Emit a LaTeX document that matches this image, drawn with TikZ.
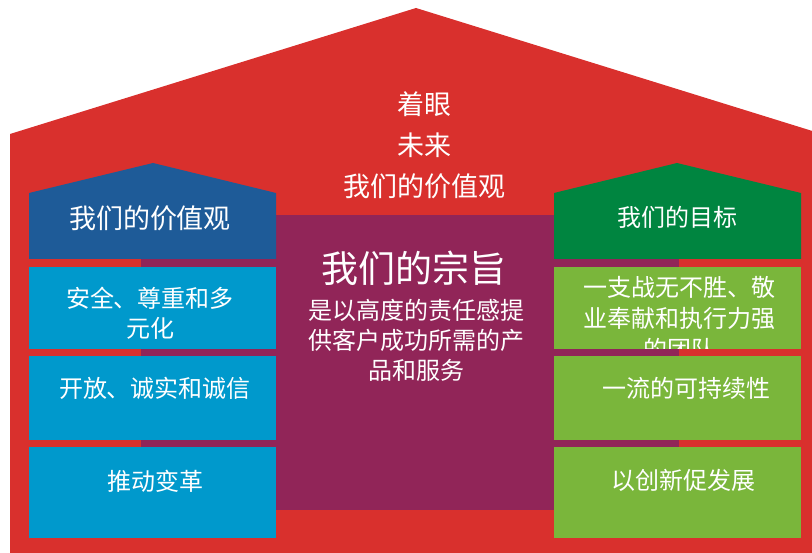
\documentclass[tikz,border=0pt]{standalone}
\usepackage{fontspec}
\setmainfont{Noto Sans CJK SC}
\definecolor{houseRed}{HTML}{D9302D}
\definecolor{missionPurple}{HTML}{912558}
\definecolor{valueBlue}{HTML}{1E5B98}
\definecolor{valueCyan}{HTML}{0099CC}
\definecolor{goalGreen}{HTML}{008540}
\definecolor{goalLime}{HTML}{7AB63B}
\begin{document}
\begin{tikzpicture}[x=1pt,y=-1pt,
      every node/.style={text=white,inner sep=0pt,align=center},
      boxtext/.style={font=\fontsize{24}{30}\selectfont}]
      \useasboundingbox (0,0) rectangle (812,553);
      \clip (0,0) rectangle (812,553);
      \fill[houseRed] (10,553)--(10,134)--(416,8)--(822,134)--(822,553)--cycle;
      \fill[missionPurple] (141,215) rectangle (679,510);
      \fill[valueBlue] (29,259)--(29,193)--(153,163)--(276,193)--(276,259)--cycle;
      \fill[goalGreen] (554,259)--(554,193)--(677,163)--(801,193)--(801,259)--cycle;
      \foreach \ya/\yb in {267/349,356/440,447/538} {
        \fill[valueCyan] (29,\ya) rectangle (276,\yb);
        \fill[goalLime] (554,\ya) rectangle (801,\yb);
      }
      \node[font=\fontsize{27}{41}\selectfont] (vision) at (424,145) {着眼\\未来\\我们的价值观};
      \node[font=\fontsize{27}{32}\selectfont] (valuesHead) at (150,218) {我们的价值观};
      \node[boxtext] (goalsHead) at (677,217) {我们的目标};
      \node[font=\fontsize{37}{40}\selectfont] (missionHead) at (414,268) {我们的宗旨};
      \node[boxtext] (missionText) at (416,340) {是以高度的责任感提\\供客户成功所需的产\\品和服务};
      \node[boxtext] (valueA) at (150,313) {安全、尊重和多\\元化};
      \node[boxtext] (valueB) at (155,388) {开放、诚实和诚信};
      \node[boxtext] (valueC) at (155,481) {推动变革};
      \begin{scope}
        \clip (554,267) rectangle (801,349);
        \node[boxtext,font=\fontsize{24}{31}\selectfont] (goalA) at (679,318) {一支战无不胜、敬\\业奉献和执行力强\\的团队};
      \end{scope}
      \node[boxtext] (goalB) at (686,388) {一流的可持续性};
      \node[boxtext] (goalC) at (683,480) {以创新促发展};
\end{tikzpicture}
\end{document}
